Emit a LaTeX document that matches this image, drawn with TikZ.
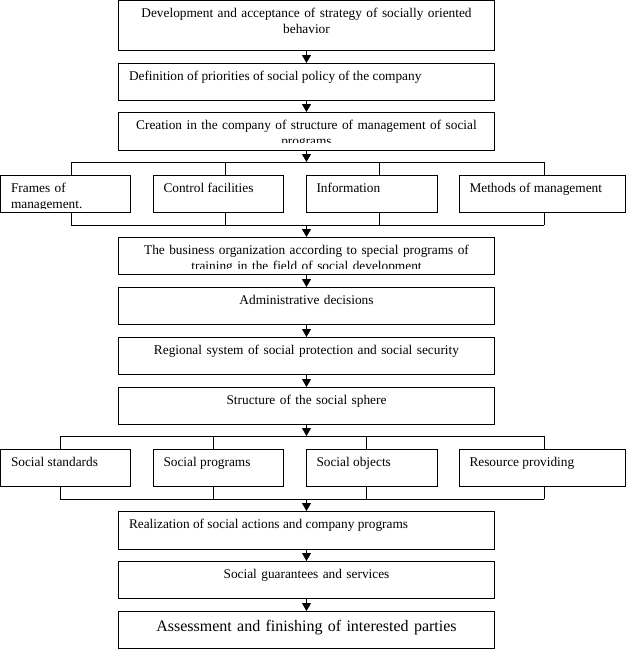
\documentclass[tikz,border=0pt]{standalone}
\usepackage{fontspec}
\setmainfont{Liberation Serif}
\usetikzlibrary{arrows.meta}

\begin{document}
\begin{tikzpicture}[x=1pt, y=-1pt, line width=1pt,
		mainbox/.style={draw, minimum width=376pt, minimum height=37pt, anchor=north, inner sep=0pt, outer sep=0pt},
		sidebox/.style={draw, minimum height=37pt, anchor=north west, inner sep=0pt, outer sep=0pt},
		boxtext/.style={font=\fontsize{13.33}{16}\selectfont, inner sep=0pt, anchor=base},
		centred/.style={boxtext, text width=356pt, align=center},
		lefttext/.style={boxtext, anchor=base west},
		flow/.style={-{Triangle[length=8pt, width=9pt]}}]
			\useasboundingbox (0,0) rectangle (627,651);
			\coordinate (forkA) at (306.5, 162);
			\coordinate (joinA) at (306.5, 225);
			\coordinate (forkB) at (306.5, 436);
			\coordinate (joinB) at (306.5, 499);

			\node[mainbox, minimum height=50pt] (strategy) at (306.5, 0.5) {};
			\node[mainbox] (priorities) at (306.5, 63) {};
			\node[mainbox, minimum height=38pt] (structure) at (306.5, 112) {};
			\node[sidebox, minimum width=130pt] (frames) at (0.5, 175) {};
			\node[sidebox, minimum width=130pt] (control) at (153, 175) {};
			\node[sidebox, minimum width=131pt] (info) at (306, 175) {};
			\node[sidebox, minimum width=166pt] (methods) at (459, 175) {};
			\node[mainbox] (business) at (306.5, 237) {};
			\node[mainbox] (decisions) at (306.5, 287) {};
			\node[mainbox] (protection) at (306.5, 337) {};
			\node[mainbox] (sphere) at (306.5, 387) {};
			\node[sidebox, minimum width=130pt] (standards) at (0.5, 449) {};
			\node[sidebox, minimum width=130pt] (programs) at (153, 449) {};
			\node[sidebox, minimum width=131pt] (objects) at (306, 449) {};
			\node[sidebox, minimum width=166pt] (resources) at (459, 449) {};
			\node[mainbox, minimum height=38pt] (realization) at (306.5, 511) {};
			\node[mainbox] (guarantees) at (306.5, 561) {};
			\node[mainbox] (assessment) at (306.5, 611) {};

			\node[centred] at ([yshift=-17pt]strategy.north) {Development and acceptance of strategy of socially oriented\\ behavior};
			\node[lefttext] at ([xshift=10pt, yshift=-17pt]priorities.north west) {Definition of priorities of social policy of the company};
			\begin{scope}
				\clip ([yshift=8pt]structure.south west) rectangle (structure.north east);
				\node[centred] at ([yshift=-17pt]structure.north) {Creation in the company of structure of management of social\\ programs};
			\end{scope}
			\begin{scope}
				\clip ([yshift=4pt]frames.south west) rectangle (frames.north east);
				\node[boxtext, text width=115pt, align=left, anchor=base west] at ([xshift=10pt, yshift=-17pt]frames.north west) {Frames of\\ management.};
			\end{scope}
			\node[lefttext] at ([xshift=10pt, yshift=-17pt]control.north west) {Control facilities};
			\node[lefttext] at ([xshift=10pt, yshift=-17pt]info.north west) {Information};
			\node[lefttext] at ([xshift=10pt, yshift=-17pt]methods.north west) {Methods of management};
			\begin{scope}
				\clip ([yshift=6pt]business.south west) rectangle (business.north east);
				\node[centred] at ([yshift=-17pt]business.north) {The business organization according to special programs of\\ training in the field of social development};
			\end{scope}
			\node[centred] at ([yshift=-17pt]decisions.north) {Administrative decisions};
			\node[centred] at ([yshift=-17pt]protection.north) {Regional system of social protection and social security};
			\node[centred] at ([yshift=-17pt]sphere.north) {Structure of the social sphere};
			\node[lefttext] at ([xshift=10pt, yshift=-17pt]standards.north west) {Social standards};
			\node[lefttext] at ([xshift=10pt, yshift=-17pt]programs.north west) {Social programs};
			\node[lefttext] at ([xshift=10pt, yshift=-17pt]objects.north west) {Social objects};
			\node[lefttext] at ([xshift=10pt, yshift=-17pt]resources.north west) {Resource providing};
			\node[lefttext] at ([xshift=10pt, yshift=-17pt]realization.north west) {Realization of social actions and company programs};
			\node[centred] at ([yshift=-17pt]guarantees.north) {Social guarantees and services};
			\node[centred, font=\fontsize{16}{19}\selectfont] at ([yshift=-20pt]assessment.north) {Assessment and finishing of interested parties};

			\draw (71,162) -- (544,162);
			\draw (71,225) -- (544,225);
			\foreach \x/\n in {71/frames, 225/control, 379/info, 544/methods}{
				\draw (\x,162) -- (\x,162 |- \n.north);
				\draw (\x,225 |- \n.south) -- (\x,225);
			}
			\draw (60,436) -- (544,436);
			\draw (60,499) -- (544,499);
			\foreach \x/\n in {60/standards, 213/programs, 366/objects, 544/resources}{
				\draw (\x,436) -- (\x,436 |- \n.north);
				\draw (\x,499 |- \n.south) -- (\x,499);
			}

			\draw[flow] (strategy) -- (priorities);
			\draw[flow] (priorities) -- (structure);
			\draw[flow] (structure) -- (forkA);
			\draw[flow] (joinA) -- (business);
			\draw[flow] (business) -- (decisions);
			\draw[flow] (decisions) -- (protection);
			\draw[flow] (protection) -- (sphere);
			\draw[flow] (sphere) -- (forkB);
			\draw[flow] (joinB) -- (realization);
			\draw[flow] (realization) -- (guarantees);
			\draw[flow] (guarantees) -- (assessment);
		\end{tikzpicture}
\end{document}
